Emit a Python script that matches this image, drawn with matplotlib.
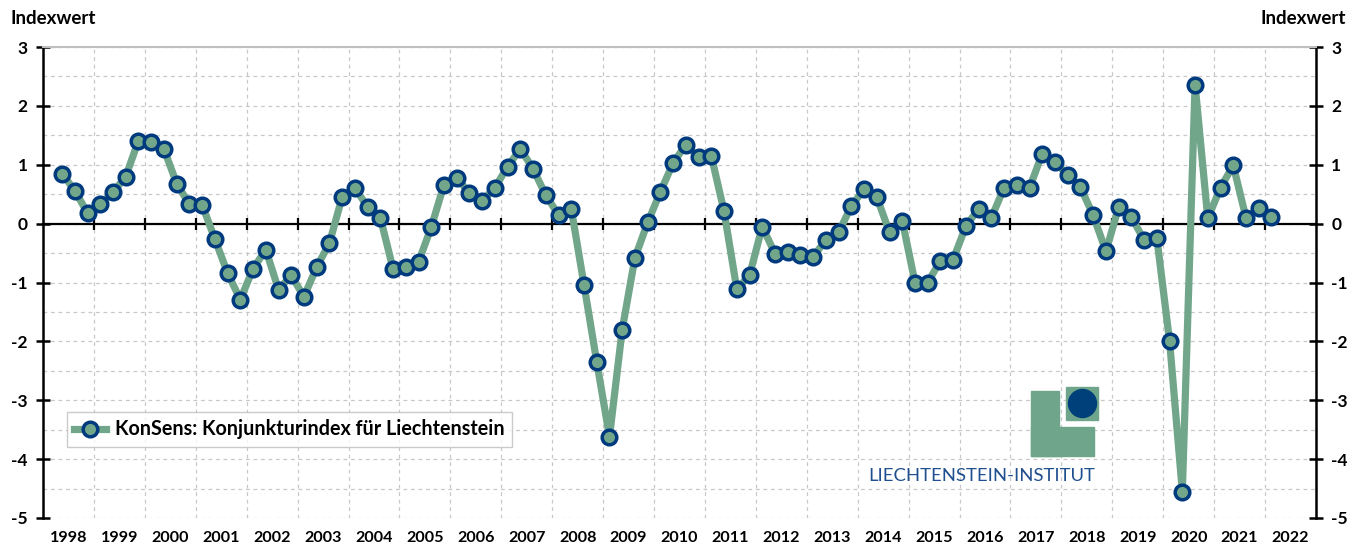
"""KonSens Konjunkturindex Liechtenstein - quarterly line chart."""
import matplotlib
matplotlib.use("Agg")
import matplotlib.pyplot as plt
from matplotlib.patches import Rectangle, Circle
from matplotlib.transforms import blended_transform_factory

plt.rcParams["font.family"] = ["Lato", "DejaVu Sans"]

# first observation 1998 Q2, last 2022 Q1
START_YEAR, START_Q = 1998, 2
values = [
    0.85, 0.56, 0.18,                 # 1998 Q2-Q4
    0.33, 0.53, 0.80, 1.41,           # 1999
    1.38, 1.27, 0.68, 0.33,           # 2000
    0.32, -0.26, -0.84, -1.29,        # 2001
    -0.77, -0.44, -1.12, -0.88,       # 2002
    -1.24, -0.74, -0.33, 0.45,        # 2003
    0.61, 0.28, 0.10, -0.77,          # 2004
    -0.74, -0.65, -0.06, 0.66,        # 2005
    0.78, 0.52, 0.39, 0.61,           # 2006
    0.97, 1.27, 0.93, 0.48,           # 2007
    0.15, 0.25, -1.04, -2.35,         # 2008
    -3.62, -1.80, -0.58, 0.02,        # 2009
    0.54, 1.03, 1.34, 1.13,           # 2010
    1.15, 0.21, -1.11, -0.88,         # 2011
    -0.05, -0.51, -0.49, -0.54,       # 2012
    -0.57, -0.27, -0.15, 0.30,        # 2013
    0.58, 0.45, -0.15, 0.05,          # 2014
    -1.00, -1.00, -0.63, -0.61,       # 2015
    -0.04, 0.25, 0.10, 0.61,          # 2016
    0.66, 0.61, 1.19, 1.05,           # 2017
    0.82, 0.62, 0.14, -0.47,          # 2018
    0.28, 0.11, -0.28, -0.25,         # 2019
    -2.00, -4.55, 2.36, 0.09,         # 2020
    0.61, 0.99, 0.10, 0.26,           # 2021
    0.11,                             # 2022 Q1
]
years = list(range(1998, 2023))
series_label = "KonSens: Konjunkturindex für Liechtenstein"

GREEN = "#72A68A"
NAVY = "#003A7E"

# quarter positions: centred inside each year's category
xs = []
y, q = START_YEAR, START_Q
for _ in values:
    xs.append(y + (q - 0.5) / 4)
    q += 1
    if q > 4:
        q, y = 1, y + 1

W, H = 1350, 543
fig = plt.figure(figsize=(W / 100, H / 100), dpi=100)
ax = fig.add_axes([43 / W, 1 - 518 / H, (1316 - 43) / W, (518 - 47) / H])

ax.plot(xs, values, color=GREEN, lw=5.2, marker="o", ms=10.5, mfc=GREEN,
        mec=NAVY, mew=2.5, label=series_label, zorder=5, clip_on=False)

ax.set_xlim(years[0], years[-1] + 1)
ax.set_ylim(-5, 3)

# x axis drawn on the zero line, ticks at year boundaries
ax.spines["bottom"].set_position(("data", 0))
ax.spines["bottom"].set_linewidth(1.6)
ax.set_xticks(years[1:])
ax.tick_params(axis="x", direction="inout", length=9, width=1.6, labelbottom=False)
trans = blended_transform_factory(ax.transData, ax.transAxes)
for yr in years:
    ax.text(yr + 0.5, -0.027, str(yr), transform=trans, ha="center", va="top",
            fontsize=11.6, fontweight="bold")

ax.set_yticks(range(-5, 4))
ax.set_yticks([v + 0.5 for v in range(-5, 3)], minor=True)
ax.tick_params(axis="y", which="major", direction="inout", length=10, width=1.8,
               left=True, right=True, labelleft=True, labelright=True,
               labelsize=12.5, pad=6)
ax.tick_params(axis="y", which="minor", length=0)
for lab in ax.get_yticklabels():
    lab.set_fontweight("bold")
ax.yaxis.set_major_formatter(matplotlib.ticker.FuncFormatter(lambda v, p: "%d" % v))

for s in ("left", "right"):
    ax.spines[s].set_linewidth(1.8)
ax.spines["top"].set_color("#BFBFBF")
ax.spines["top"].set_linewidth(1.5)

ax.grid(which="both", axis="y", color="#C8C8C8", ls=(0, (3, 3)), lw=0.9)
ax.grid(which="major", axis="x", color="#C8C8C8", ls=(0, (3, 3)), lw=0.9)
ax.set_axisbelow(True)

fig.text(10 / W, 1 - 19 / H, "Indexwert", fontsize=13.5, fontweight="bold",
         ha="left", va="center")
fig.text(1346 / W, 1 - 19 / H, "Indexwert", fontsize=13.5, fontweight="bold",
         ha="right", va="center")

leg = ax.legend(loc="upper left", bbox_to_anchor=(67 / W, 1 - 412 / H),
                bbox_transform=fig.transFigure, fancybox=False, frameon=True,
                prop={"weight": "bold", "size": 14.2}, handlelength=1.6,
                handletextpad=0.45, borderpad=0.38, borderaxespad=0)
leg.get_frame().set_edgecolor("#BFBFBF")
leg.get_frame().set_linewidth(1.0)


# logo (pixel positions converted to figure fractions)
def px(x, y):
    return x / W, 1 - y / H


LOGO = "#6FA68B"
fig.patches.append(Rectangle(px(1031, 456), 28 / W, 65 / H, color=LOGO,
                             transform=fig.transFigure))
fig.patches.append(Rectangle(px(1031, 456), 63 / W, 29 / H, color=LOGO,
                             transform=fig.transFigure))
fig.patches.append(Rectangle(px(1066, 420), 32 / W, 33 / H, color=LOGO,
                             transform=fig.transFigure))
circ = Circle((1082.5, H - 403.5), 14, color="#00407A", transform=None)
fig.patches.append(circ)
fig.text(1095 / W, 1 - 476 / H, "LIECHTENSTEIN-INSTITUT", fontsize=13.3,
         color="#1F4F8F", ha="right", va="center")

fig.savefig("out.png", dpi=100)
